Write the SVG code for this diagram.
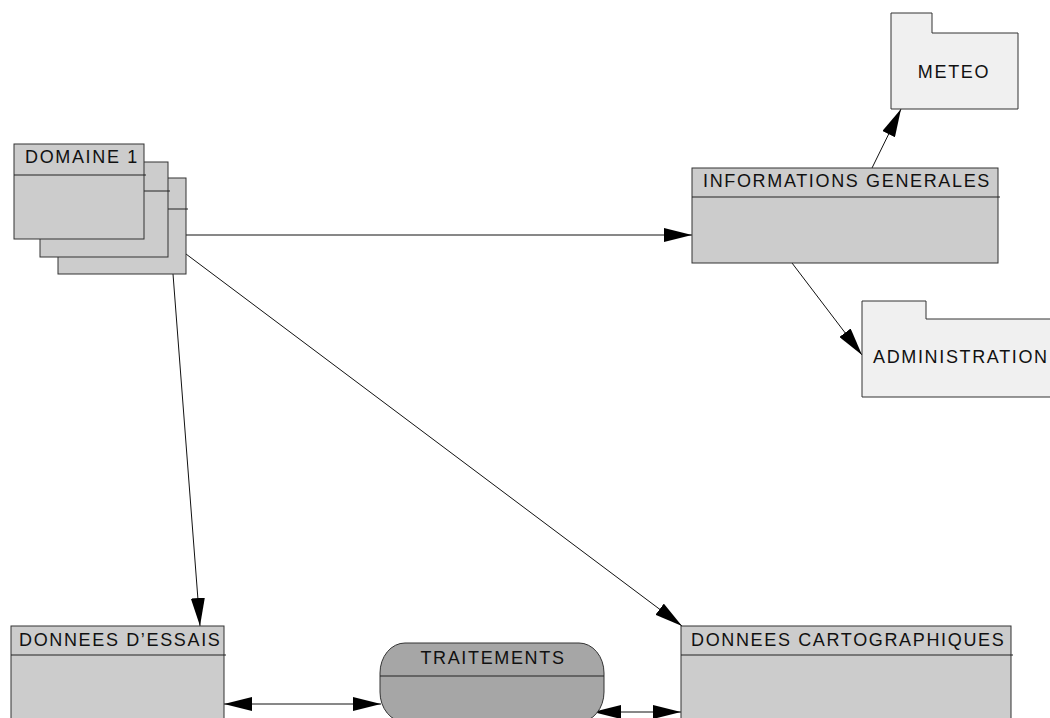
<svg xmlns="http://www.w3.org/2000/svg" width="1050" height="718" viewBox="0 0 1050 718">
<defs>
<marker id="ah" markerUnits="userSpaceOnUse" markerWidth="28" markerHeight="14" refX="28" refY="7" orient="auto-start-reverse" viewBox="0 0 28 14">
<path d="M0,0 L28,7 L0,14 Z" fill="#000"/>
</marker>
<style>
.box{fill:#cccccc;stroke:#333;stroke-width:1}
.pkg{fill:#f0f0f0;stroke:#333;stroke-width:1}
.proc{fill:#a6a6a6;stroke:#333;stroke-width:1}
.sep{stroke:#222;stroke-width:1;fill:none}
.lbl{font-family:"Liberation Sans",Arial,sans-serif;font-size:18px;letter-spacing:1.65px;fill:#111}
.con{stroke:#111;stroke-width:1;fill:none}
</style>
</defs>
<rect width="1050" height="718" fill="#fff"/>
<g id="connectors">
<line class="con" x1="186" y1="235" x2="692" y2="235" marker-end="url(#ah)"/>
<line class="con" x1="186" y1="254" x2="682" y2="626" marker-end="url(#ah)"/>
<line class="con" x1="173" y1="274" x2="200" y2="626" marker-end="url(#ah)"/>
<line class="con" x1="872" y1="168" x2="901" y2="109" marker-end="url(#ah)"/>
<line class="con" x1="792" y1="263" x2="862" y2="355" marker-end="url(#ah)"/>
<line class="con" x1="224" y1="704" x2="381" y2="704" marker-start="url(#ah)" marker-end="url(#ah)"/>
<line class="con" x1="593" y1="712" x2="681" y2="712" marker-start="url(#ah)" marker-end="url(#ah)"/>
</g>
<g id="domaine1">
<rect class="box" x="58" y="178" width="128" height="96"/>
<line class="sep" x1="58" y1="209" x2="188" y2="209"/>
<rect class="box" x="40" y="162" width="128" height="95"/>
<line class="sep" x1="40" y1="191" x2="170" y2="191"/>
<rect class="box" x="14" y="144" width="130" height="95"/>
<line class="sep" x1="14" y1="175" x2="146" y2="175"/>
<text class="lbl" x="25" y="163">DOMAINE 1</text>
</g>
<g id="informations-generales">
<rect class="box" x="692" y="168" width="306" height="95"/>
<line class="sep" x1="692" y1="197" x2="1000" y2="197"/>
<text class="lbl" x="703" y="187">INFORMATIONS GENERALES</text>
</g>
<g id="meteo">
<path class="pkg" d="M891,13 H932 V33 H1018 V109 H891 Z"/>
<text class="lbl" x="954" y="78" text-anchor="middle">METEO</text>
</g>
<g id="administration">
<path class="pkg" d="M862,301 H926 V319 H1060 V397 H862 Z"/>
<text class="lbl" x="873" y="363">ADMINISTRATION</text>
</g>
<g id="donnees-essais">
<rect class="box" x="11" y="626" width="213" height="110"/>
<line class="sep" x1="11" y1="655" x2="226" y2="655"/>
<text class="lbl" x="19" y="646">DONNEES D’ESSAIS</text>
</g>
<g id="traitements">
<rect class="proc" x="380" y="643" width="224" height="79" rx="25" ry="30"/>
<line class="sep" x1="380" y1="676" x2="604" y2="676"/>
<text class="lbl" x="493" y="664" text-anchor="middle">TRAITEMENTS</text>
</g>
<g id="donnees-cartographiques">
<rect class="box" x="681" y="626" width="330" height="110"/>
<line class="sep" x1="681" y1="655" x2="1013" y2="655"/>
<text class="lbl" x="691" y="646">DONNEES CARTOGRAPHIQUES</text>
</g>
</svg>
